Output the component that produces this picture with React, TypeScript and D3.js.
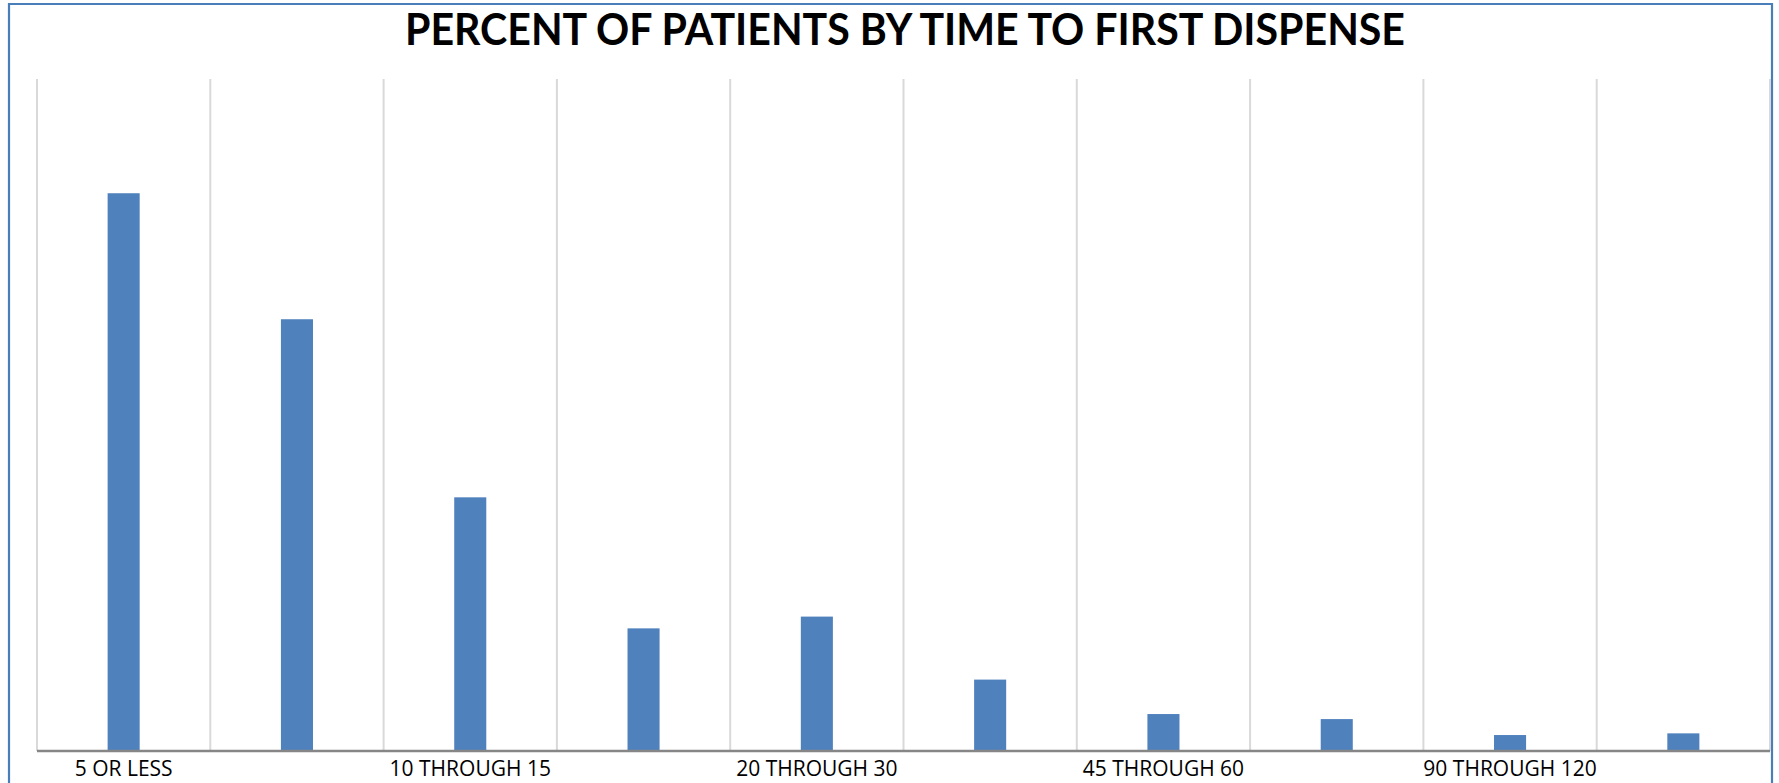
import React from 'react';
import * as d3 from 'd3';

// minutes to first dispense
const categories = [
  '5 OR LESS',
  '5 THROUGH 10',
  '10 THROUGH 15',
  '15 THROUGH 20',
  '20 THROUGH 30',
  '30 THROUGH 45',
  '45 THROUGH 60',
  '60 THROUGH 90',
  '90 THROUGH 120',
  'MORE THAN 120',
];
// percent of patients
const percents = [33.2, 25.7, 15.1, 7.3, 8.0, 4.25, 2.2, 1.9, 0.95, 1.05];
// only every other label fits on the axis
const shownLabels = ['5 OR LESS', '10 THROUGH 15', '20 THROUGH 30', '45 THROUGH 60', '90 THROUGH 120'];

const title = 'PERCENT OF PATIENTS BY TIME TO FIRST DISPENSE';

export default function App() {
  const width = 1779, height = 783;
  const plot = {left: 37, right: 1770, top: 79, bottom: 751};

  const x = d3.scaleBand()
    .domain(categories)
    .range([plot.left, plot.right])
    .padding(0);

  const y = d3.scaleLinear()
    .domain([0, 40])
    .range([plot.bottom, plot.top]);

  const bw = x.bandwidth();
  const barW = bw * 0.185;
  const gridXs = categories.map((c) => x(c) as number).concat([plot.right]);

  return (
    <svg width={width} height={height}
      style={{position: 'absolute', left: 0, top: 0, background: '#fff'}}>
      <rect x={0} y={0} width={width} height={height} fill="#fff"/>
      {/* chart frame, bottom edge is cut off */}
      <path d={`M9,${height + 5} V4 H1772 V${height + 5}`} fill="none" stroke="#4a7ebb" strokeWidth="2.2"/>

      <text x={905} y={45} textAnchor="middle" fontFamily="Lato, 'Open Sans', sans-serif"
        fontWeight="bold" fontSize="43" fill="#000"
        textLength={1000} lengthAdjust="spacingAndGlyphs">{title}</text>

      {gridXs.map((gx, i) => (
        <line key={'g' + i} x1={gx} x2={gx} y1={plot.top} y2={plot.bottom}
          stroke="#d9d9d9" strokeWidth="2"/>
      ))}

      {categories.map((c, i) => (
        <rect key={c} x={(x(c) as number) + (bw - barW) / 2} y={y(percents[i])}
          width={barW} height={plot.bottom - y(percents[i])} fill="#4f81bd"/>
      ))}

      <line x1={plot.left} x2={plot.right} y1={plot.bottom} y2={plot.bottom}
        stroke="#868686" strokeWidth="2.5"/>

      {shownLabels.map((c) => (
        <text key={'l' + c} x={(x(c) as number) + bw / 2} y={776} textAnchor="middle"
          fontFamily="'Open Sans', sans-serif" fontSize="21" fill="#000">{c}</text>
      ))}
    </svg>
  );
}
